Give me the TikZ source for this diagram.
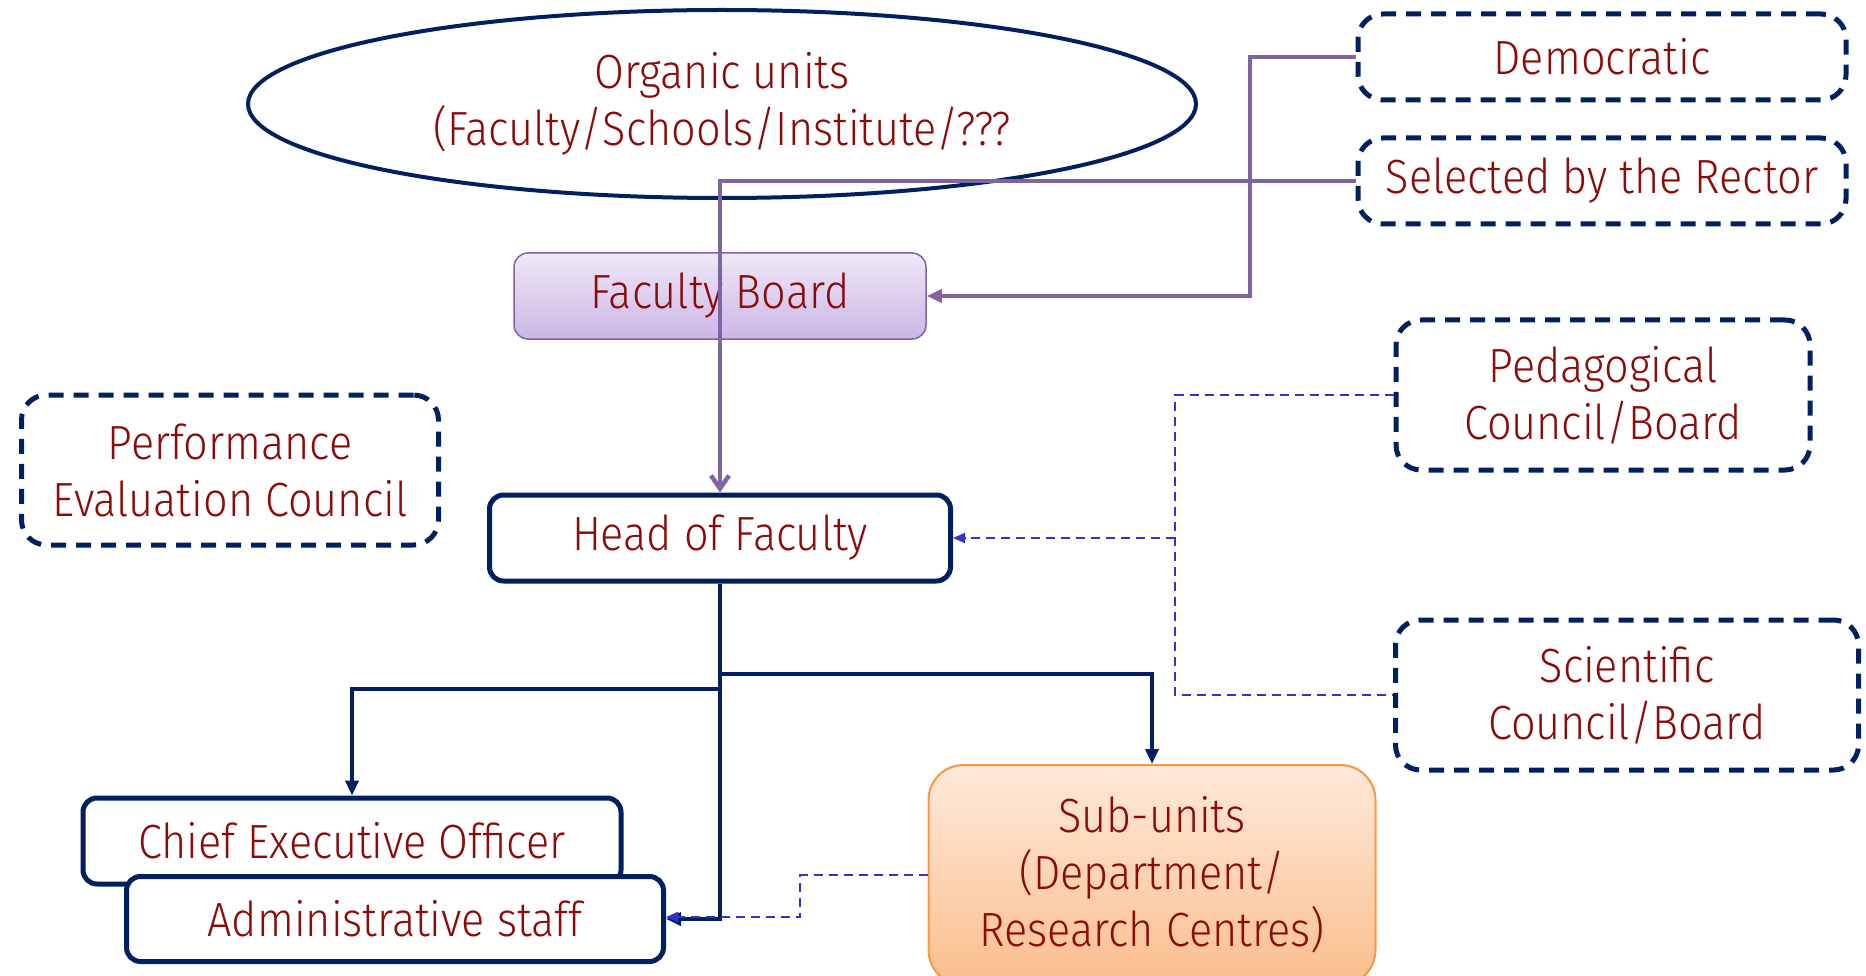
\documentclass[tikz,border=0pt]{standalone}
\usepackage{fontspec}
\setmainfont{Fira Sans Light}[FakeStretch=0.9]
\usetikzlibrary{shapes.geometric,arrows.meta}
\definecolor{navy}{HTML}{002060}
\definecolor{txt}{HTML}{8B0A0A}
\definecolor{purp}{HTML}{8064A2}
\definecolor{fbtop}{HTML}{EFE8F8}
\definecolor{fbbot}{HTML}{CBB6E5}
\definecolor{dblue}{HTML}{3333CC}
\definecolor{orb}{HTML}{F79646}
\definecolor{ortop}{HTML}{FEE9DA}
\definecolor{orbot}{HTML}{FBBE8C}
\tikzset{
  base/.style={inner sep=0pt, align=center, text=txt, font=\fontsize{48}{57}\selectfont},
  dashbox/.style={base, draw=navy, line width=5pt, rounded corners=25pt, dash pattern=on 15pt off 10pt},
  solidbox/.style={base, draw=navy, line width=5pt, rounded corners=14pt, fill=white},
  purpline/.style={draw=purp, line width=4.5pt},
  navyline/.style={draw=navy, line width=4.5pt, -{Triangle[length=15pt,width=13pt]}},
  blueline/.style={draw=dblue, line width=2pt, dash pattern=on 9pt off 6pt},
}
\begin{document}
\begin{tikzpicture}[x=1pt,y=-1pt]
\useasboundingbox (0,0) rectangle (1866,976);
\node[base, ellipse, draw=navy, line width=4pt, minimum width=948pt, minimum height=188pt] (org) at (722,104) {Organic units\\(Faculty/Schools/Institute/???};
\node[dashbox, minimum width=488pt, minimum height=86pt] (dem) at (1602,57) {Democratic};
\node[dashbox, minimum width=488pt, minimum height=86pt] (sel) at (1602,181) {Selected by the Rector};
\node[base, draw=purp, line width=1.5pt, rounded corners=14pt, top color=fbtop, bottom color=fbbot, minimum width=412pt, minimum height=86pt] (fb) at (720,296) {Faculty Board};
\node[dashbox, minimum width=417pt, minimum height=150pt] (pec) at (230,470) {Performance\\Evaluation Council};
\node[solidbox, minimum width=461pt, minimum height=86pt] (hof) at (720,538) {Head of Faculty};
\node[dashbox, minimum width=414pt, minimum height=150pt] (ped) at (1603,395) {Pedagogical\\Council/Board};
\node[dashbox, minimum width=463pt, minimum height=150pt] (sci) at (1627,695) {Scientific\\Council/Board};
\node[solidbox, minimum width=538pt, minimum height=86pt] (ceo) at (352,841) {Chief Executive Officer};
\node[solidbox, minimum width=537pt, minimum height=85pt] (adm) at (395,919) {Administrative staff};
\node[base, draw=orb, line width=2pt, rounded corners=35pt, top color=ortop, bottom color=orbot, minimum width=447pt, minimum height=220pt] (sub) at (1152,875) {Sub-units\\(Department/\\Research Centres)};
% purple connectors
\coordinate (j1) at (1250,0);
\draw[purpline, -{Straight Barb[length=13pt,width=18pt]}] (sel.west) -| (hof.north);
\draw[purpline, -{Triangle[length=15pt,width=13pt]}] (dem.west) -| (j1 |- fb.east) -- (fb.east);
% navy connectors
\coordinate (b1) at (720,689);
\coordinate (b2) at (720,674);
\draw[navyline] (hof.south) |- (adm.east);
\draw[navyline] (b1) -| (ceo.north);
\draw[navyline] (b2) -| (sub.north);
% blue dashed
\coordinate (dv) at (1175,0);
\coordinate (dv2) at (800,0);
\draw[blueline] (ped.west) -- (ped.west -| dv) -- (sci.west -| dv) -- (sci.west);
\draw[blueline, -{Triangle[length=12pt,width=10pt]}] (hof.east -| dv) -- (hof.east);
\draw[blueline, -{Triangle[length=12pt,width=10pt]}] (sub.west) -- (sub.west -| dv2) |- ([yshift=2pt]adm.east);
\end{tikzpicture}
\end{document}
